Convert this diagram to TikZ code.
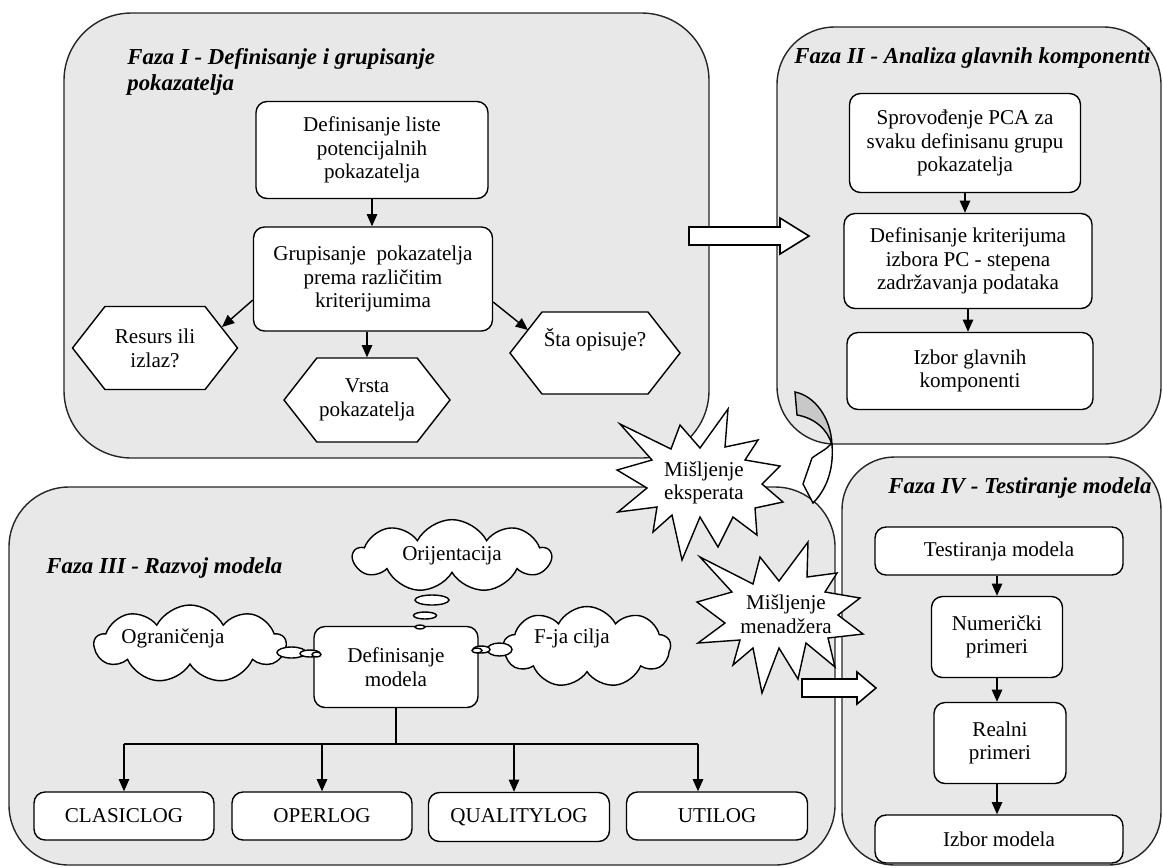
\documentclass[tikz,border=0pt]{standalone}
\usepackage{fontspec}
\setmainfont{Liberation Serif}
\usetikzlibrary{arrows.meta,calc,shapes.symbols}
\definecolor{phasegray}{RGB}{232,232,232}
\definecolor{bendgray}{RGB}{200,200,200}
\newcommand{\boxfont}{\fontsize{12}{13.5}\selectfont}
\tikzset{
	phase/.style={draw=black!85, fill=phasegray, line width=0.8pt},
	phasetitle/.style={anchor=west, inner sep=0pt, align=left, font=\fontsize{13}{14.5}\selectfont\bfseries\itshape},
	stepbox/.style={draw, fill=white, rounded corners=0.22cm, line width=0.8pt, align=center, inner sep=1pt, font=\boxfont},
	hexa/.style={draw, fill=white, signal, signal to=east and west, signal pointer angle=104, line width=0.8pt, align=center, inner sep=1pt, font=\boxfont},
	thought/.style={draw, fill=white, cloud, cloud puffs=9, cloud puff arc=125, cloud ignores aspect, line width=0.8pt, font=\boxfont},
	bubble/.style={draw, fill=white, line width=0.8pt},
	burst/.style={draw, fill=white, line width=0.8pt},
	blockarrow/.style={draw, fill=white, line width=0.9pt},
	arr/.style={-{Triangle[length=7pt,width=6pt]}, line width=0.8pt},
}

\begin{document}
\begin{tikzpicture}[x=0.02cm, y=-0.02cm]
		%%%%% START %%%%%
		\useasboundingbox (0,0) rectangle (1163,867);
		
		% the four phases
		\draw[phase, rounded corners=1.35cm] (64,13) rectangle (709,458);
		\draw[phase, rounded corners=1.15cm] (777,27) rectangle (1161,444);
		\draw[phase, rounded corners=1.2cm] (9,487) rectangle (835,865);
		\draw[phase, rounded corners=1.05cm] (842,457) rectangle (1161,865);
		
		\node[phasetitle] (title1) at (127,72) {Faza I - Definisanje i grupisanje\\pokazatelja};
		\node[phasetitle] (title2) at (794,58) {Faza II - Analiza glavnih komponenti};
		\node[phasetitle] (title3) at (46,568) {Faza III - Razvoj modela};
		\node[phasetitle] (title4) at (888,488) {Faza IV - Testiranje modela};
		
		% Faza I
		\node[stepbox, minimum width=4.64cm, minimum height=1.94cm] (liste) at (372,150) {Definisanje liste\\potencijalnih\\pokazatelja};
		\node[stepbox, minimum width=4.78cm, minimum height=2.08cm] (grup) at (373,279) {Grupisanje~ pokazatelja\\prema različitim\\kriterijumima};
		\node[hexa, minimum width=3.3cm, minimum height=1.66cm] (resurs) at (155,348) {Resurs ili\\izlaz?};
		\node[hexa, minimum width=3.32cm, minimum height=1.68cm] (vrsta) at (367,400) {Vrsta\\pokazatelja};
		\node[hexa, minimum width=3.28cm, minimum height=1.64cm] (sta) at (595,353) {Šta opisuje?\\\strut};
		
		\draw[arr] (liste.south) -- (liste.south |- grup.north);
		\draw[arr] ($(grup.west)+(0,21)$) -- ($(resurs.center)+(67,-21)$);
		\draw[arr] (vrsta.north |- grup.south) -- (vrsta.north);
		\draw[arr] ($(grup.east)+(0,23)$) -- ($(sta.center)+(-67,-23)$);
		
		% Faza II
		\node[stepbox, minimum width=4.62cm, minimum height=1.98cm] (pca) at (965,143) {Sprovođenje PCA za\\svaku definisanu grupu\\pokazatelja};
		\node[stepbox, minimum width=4.96cm, minimum height=1.9cm] (krit) at (968,261) {Definisanje kriterijuma\\izbora PC - stepena\\zadržavanja podataka};
		\node[stepbox, minimum width=4.92cm, minimum height=1.54cm] (izbor) at (970,371) {Izbor glavnih\\komponenti};
		
		\draw[arr] (pca.south) -- (pca.south |- krit.north);
		\draw[arr] (krit.south) -- (krit.south |- izbor.north);
		
		% Faza III
		\node[stepbox, minimum width=3.28cm, minimum height=1.62cm] (defmod) at (396,667) {Definisanje\\modela};
		\node[thought, minimum width=3.94cm, minimum height=1.36cm] (orient) at (452,556) {Orijentacija};
		\node[thought, minimum width=3.82cm, minimum height=1.56cm, label={[font=\boxfont, shift={(-0.34cm,0.12cm)}]center:Ograničenja}] (ogran) at (190,644) {};
		\node[thought, minimum width=3.34cm, minimum height=1.62cm, label={[font=\boxfont, shift={(-0.3cm,0.18cm)}]center:F-ja cilja}] (fcilja) at (587,647) {};
		
		\draw[bubble] (432,600) ellipse (17 and 5);
		\draw[bubble] (425,615.5) ellipse (11.5 and 3.5);
		\draw[bubble] (420,627) ellipse (5 and 2);
		\draw[bubble] (291.5,652.5) ellipse (14.5 and 5.5);
		\draw[bubble] (310,653.5) ellipse (10 and 3.5);
		\draw[bubble] (316.5,654.5) ellipse (4.5 and 2.5);
		\draw[bubble] (499.5,649.5) ellipse (12.5 and 6.5);
		\draw[bubble] (481.5,649.5) ellipse (8.5 and 3.5);
		\draw[bubble] (477,650.5) ellipse (5 and 2.5);
		
		\node[stepbox, minimum width=3.6cm, minimum height=0.96cm] (clasic) at (124,816) {CLASICLOG};
		\node[stepbox, minimum width=3.6cm, minimum height=0.96cm] (oper) at (322,816) {OPERLOG};
		\node[stepbox, minimum width=3.62cm, minimum height=0.98cm] (quality) at (519,817) {QUALITYLOG};
		\node[stepbox, minimum width=3.62cm, minimum height=0.96cm] (utilog) at (717,816) {UTILOG};
		
		\coordinate (split) at (393,744);
		\draw[line width=0.8pt] (defmod.south) -- (defmod.south |- split);
		\draw[line width=0.8pt] (clasic.north |- split) -- ([xshift=-0.38cm]utilog.north |- split);
		\draw[arr] (clasic.north |- split) -- (clasic.north);
		\draw[arr] (oper.north |- split) -- (oper.north);
		\draw[arr] ([xshift=-0.1cm]quality.north |- split) -- ([xshift=-0.1cm]quality.north);
		\draw[arr] ([xshift=-0.38cm]utilog.north |- split) -- ([xshift=-0.38cm]utilog.north);
		
		% Faza IV
		\node[stepbox, minimum width=4.96cm, minimum height=0.96cm] (test) at (999,551) {Testiranja modela};
		\node[stepbox, minimum width=2.62cm, minimum height=1.62cm] (num) at (997,637) {Numerički\\primeri};
		\node[stepbox, minimum width=2.64cm, minimum height=1.62cm] (real) at (1000,743) {Realni\\primeri};
		\node[stepbox, minimum width=4.96cm, minimum height=0.96cm] (izmod) at (999,839) {Izbor modela};
		
		\draw[arr] (num.north |- test.south) -- (num.north);
		\draw[arr] (num.south) -- (num.south |- real.north);
		\draw[arr] (num.south |- real.south) -- (num.south |- izmod.north);
		
		% opinions
		\draw[burst] (620,424) -- (671,449) -- (680,425) -- (700,448) -- (728,409) -- (725,447) -- (758,440) -- (745,460) -- (780,466) -- (762,484) -- (783,502) -- (755,508) -- (757,535) -- (733,517) -- (718,547) -- (700,517) -- (682,560) -- (672,515) -- (653,532) -- (657,507) -- (618,512) -- (647,488) -- (617,470) -- (652,460) -- cycle;
		\node[align=center, font=\boxfont] (eksp) at (704,483) {Mišljenje\\eksperata};
		
		\draw[burst] (700,557) -- (753,584) -- (760,557) -- (779,581) -- (808,542) -- (807,577) -- (837,573) -- (825,592) -- (860,598) -- (838,615) -- (863,634) -- (828,638) -- (835,667) -- (806,643) -- (798,679) -- (779,648) -- (762,693) -- (753,648) -- (733,665) -- (740,640) -- (698,643) -- (725,623) -- (697,602) -- (732,592) -- cycle;
		\node[align=center, font=\boxfont] (menad) at (786,614) {Mišljenje\\menadžera};
		
		% curved arrow
		\draw[line width=0.8pt, fill=bendgray] (795,392) .. controls (815,396) and (831,418) .. (832,445) .. controls (828,430) and (815,418) .. (797,415) -- cycle;
		\draw[line width=0.8pt, fill=white] (832,445) .. controls (834,470) and (826,490) .. (813,503) -- (803,484) -- (812,458) .. controls (820,452) and (827,449) .. (831,444) -- cycle;
		
		% block arrows
		\draw[blockarrow] (689,227) -- (780,227) -- (780,218) -- (809,236) -- (780,254) -- (780,245) -- (689,245) -- cycle;
		\draw[blockarrow] (802,679) -- (857,679) -- (857,672) -- (876,688) -- (857,704) -- (857,697) -- (802,697) -- cycle;
		
		%%%%% END %%%%%
\end{tikzpicture}
\end{document}
